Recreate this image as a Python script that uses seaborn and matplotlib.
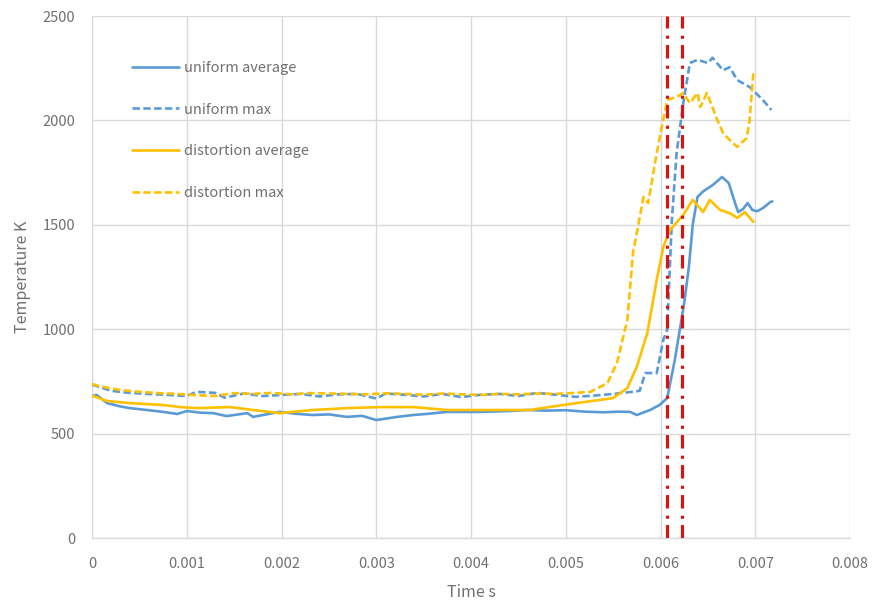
import matplotlib
matplotlib.use("Agg")
import matplotlib.pyplot as plt
import seaborn as sns
import pandas as pd

# ---- data ----
ua_t = [0, 0.00005, 0.00016, 0.0003, 0.0004, 0.00058, 0.00075, 0.0009, 0.001, 0.00115,
        0.00128, 0.00142, 0.00164, 0.0017, 0.00198, 0.00215, 0.00233, 0.0025, 0.00269, 0.00285,
        0.003, 0.00322, 0.00339, 0.00355, 0.00375, 0.0041, 0.0044, 0.00459, 0.0048, 0.005,
        0.0052, 0.0054, 0.00555, 0.00568, 0.00575, 0.00589, 0.00599, 0.00607, 0.00615, 0.00625,
        0.0063, 0.00634, 0.00639, 0.00645, 0.00655, 0.00665, 0.00672, 0.00679, 0.00682, 0.00687,
        0.00692, 0.00697, 0.00702, 0.00708, 0.00716, 0.00718]
ua_v = [680, 685, 646, 630, 622, 613, 604, 594, 608, 600,
        598, 584, 598, 580, 604, 595, 589, 592, 580, 585,
        565, 580, 589, 595, 604, 604, 608, 613, 610, 612,
        605, 602, 605, 604, 589, 613, 637, 670, 850, 1125,
        1300, 1500, 1633, 1660, 1690, 1729, 1700, 1600, 1561, 1575,
        1604, 1571, 1565, 1580, 1609, 1612]

um_t = [0, 0.0001, 0.0002, 0.0004, 0.0006, 0.0008, 0.001, 0.0011, 0.0013, 0.0014,
        0.0016, 0.0018, 0.002, 0.0022, 0.0024, 0.0026, 0.0028, 0.003, 0.0031, 0.0033,
        0.0035, 0.0037, 0.0039, 0.0041, 0.0043, 0.0045, 0.0047, 0.0049, 0.0051, 0.0053,
        0.0055, 0.0057, 0.00578, 0.00584, 0.00596, 0.00603, 0.00607, 0.00612, 0.00617, 0.00624,
        0.00631, 0.00639, 0.0065, 0.00655, 0.00666, 0.00673, 0.00681, 0.00694, 0.00708, 0.00717]
um_v = [735, 720, 705, 695, 690, 685, 680, 700, 695, 672,
        692, 680, 685, 690, 678, 688, 690, 668, 692, 686,
        678, 690, 675, 686, 690, 680, 695, 686, 676, 682,
        690, 700, 705, 790, 790, 950, 995, 1523, 1843, 2083,
        2275, 2290, 2275, 2300, 2240, 2255, 2193, 2160, 2098, 2050]

da_t = [0, 0.00016, 0.0004, 0.00075, 0.00093, 0.0011, 0.00146, 0.0017, 0.00198, 0.00233,
        0.00269, 0.00304, 0.00339, 0.00375, 0.0041, 0.00462, 0.00497, 0.0055, 0.00565, 0.00575,
        0.00586, 0.00596, 0.00603, 0.0061, 0.00624, 0.00634, 0.00645, 0.00652, 0.00663, 0.00673,
        0.00681, 0.00689, 0.00698]
da_v = [682, 656, 646, 637, 627, 622, 627, 613, 598, 613,
        622, 627, 627, 613, 613, 613, 637, 670, 718, 820,
        980, 1235, 1395, 1475, 1547, 1619, 1561, 1619, 1571, 1556,
        1533, 1561, 1514]

dm_t = [0, 0.0001, 0.0003, 0.0005, 0.0007, 0.0009, 0.0011, 0.0013, 0.0015, 0.0017,
        0.0019, 0.0021, 0.0023, 0.0025, 0.0027, 0.0029, 0.0031, 0.0033, 0.0035, 0.0037,
        0.0039, 0.0041, 0.0043, 0.0045, 0.0047, 0.0049, 0.0051, 0.00526, 0.00544, 0.00554,
        0.00565, 0.00571, 0.00575, 0.00582, 0.00587, 0.00596, 0.00607, 0.00617, 0.00624, 0.00631,
        0.00639, 0.00642, 0.00649, 0.0066, 0.00666, 0.00673, 0.00681, 0.00691, 0.00694, 0.00698]
dm_v = [737, 725, 709, 700, 694, 690, 684, 680, 694, 690,
        695, 688, 694, 692, 690, 688, 693, 690, 686, 692,
        688, 685, 690, 688, 692, 690, 695, 700, 742, 838,
        1044, 1365, 1461, 1633, 1604, 1843, 2098, 2112, 2131, 2083,
        2131, 2064, 2131, 2002, 1940, 1906, 1873, 1916, 2002, 2227]

series_names = ["uniform average", "uniform max", "distortion average", "distortion max"]
vline_t = [0.00607, 0.006227]

x_ticks = [0, 0.001, 0.002, 0.003, 0.004, 0.005, 0.006, 0.007, 0.008]
x_tick_labels = ["0", "0.001", "0.002", "0.003", "0.004", "0.005", "0.006", "0.007", "0.008"]
y_ticks = [0, 500, 1000, 1500, 2000, 2500]

# ---- styling ----
sns.set_theme(style="white")
plt.rcParams["font.family"] = ["Noto Sans CJK JP", "DejaVu Sans"]

BLUE = "#5B9BD5"
GOLD = "#FFC000"
RED = "#E01010"
TXT = "#707070"
GRID = "#D9D9D9"

fig = plt.figure(figsize=(8.74, 6.06), dpi=100)
ax = fig.add_axes([92 / 874, 1 - 538 / 606, 758 / 874, 522 / 606])

data = [(ua_t, ua_v), (um_t, um_v), (da_t, da_v), (dm_t, dm_v)]
colors = [BLUE, BLUE, GOLD, GOLD]
dashed = [False, True, False, True]

for (t, v), name, c, d in zip(data, series_names, colors, dashed):
    df = pd.DataFrame({"t": t, "v": v})
    kw = dict(dashes=(2.8, 1.3)) if d else {}
    sns.lineplot(data=df, x="t", y="v", ax=ax, color=c, linewidth=1.9,
                 label=name, estimator=None, sort=False, **kw)

for xv in vline_t:
    ax.axvline(xv, color=RED, linewidth=2.25,
               linestyle=(0, (4.3, 2.0, 1.0, 2.3)), zorder=5)

ax.set_xlim(0, 0.008)
ax.set_ylim(0, 2500)
ax.set_xticks(x_ticks)
ax.set_xticklabels(x_tick_labels)
ax.set_yticks(y_ticks)
ax.grid(True, color=GRID, linewidth=1.0)
ax.set_axisbelow(True)
for s in ["top", "right", "left"]:
    ax.spines[s].set_visible(False)
ax.spines["bottom"].set_color(GRID)
ax.spines["bottom"].set_linewidth(1.0)
ax.tick_params(axis="x", length=0, colors=TXT, labelsize=10.5, pad=14)
ax.tick_params(axis="y", length=0, colors=TXT, labelsize=10.5, pad=12)

ax.set_xlabel("Time s", color=TXT, fontsize=11.5, labelpad=9)
ax.set_ylabel("Temperature K", color=TXT, fontsize=11.5, labelpad=8)

leg = ax.legend(loc="upper left", bbox_to_anchor=(0.053, 0.914), frameon=False,
                fontsize=10.5, handlelength=3.2, handletextpad=0.35,
                labelspacing=1.9, borderpad=0, borderaxespad=0)
for txt in leg.get_texts():
    txt.set_color(TXT)

fig.savefig("out.png", dpi=100)
